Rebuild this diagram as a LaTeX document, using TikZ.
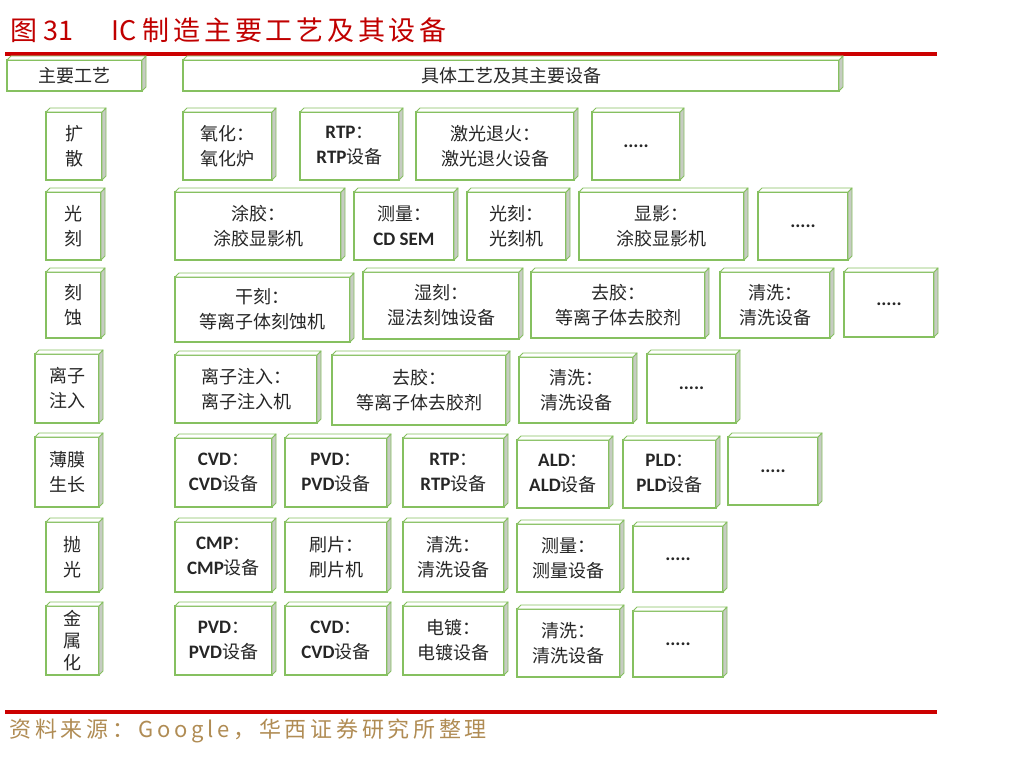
\documentclass[tikz,border=0pt]{standalone}
\usepackage{fontspec}
\setmainfont{Noto Sans CJK SC}
\newfontfamily\enfont{Carlito}
\newfontfamily\titlefont{Noto Sans CJK SC}[LetterSpace=14]
\newfontfamily\srcfont{Noto Sans CJK SC}[LetterSpace=17]
\usepackage{tikz}

\definecolor{boxgreen}{RGB}{134,192,96}
\definecolor{sidegray}{RGB}{198,204,194}
\definecolor{titlered}{RGB}{192,0,0}
\definecolor{rulered}{RGB}{204,0,0}
\definecolor{srcbrown}{RGB}{176,140,84}
\definecolor{txtgray}{RGB}{38,38,38}

\tikzset{
  cubefront/.style={draw=boxgreen, line width=1.3pt, fill=white, inner sep=0pt,
    outer sep=0pt, align=center, text=txtgray, font=\fontsize{18}{25}\selectfont},
  cubeside/.style={draw=boxgreen, line width=0.9pt, fill=sidegray, line join=round},
  cubetop/.style={draw=boxgreen, line width=0.9pt, fill=white, line join=round},
}

\newcommand{\en}[1]{{\enfont\bfseries\fontsize{19}{25}\selectfont #1}}
% front face corners (x1,y1) (x2,y2), the depth sticks out to the upper right
\newcommand{\gcube}[7][]{%
  \node[cubefront, minimum width={(#5-#3)*1pt}, minimum height={(#6-#4)*1pt}, #1]
    (#2) at ({(#3+#5)/2},{(#4+#6)/2}) {#7};
  \filldraw[cubeside] (#2.north east) -- ++(4,-4) -- ([shift={(4,-4)}]#2.south east)
    -- (#2.south east) -- cycle;
  \filldraw[cubetop] (#2.north west) -- ++(4,-4) -- ([shift={(4,-4)}]#2.north east)
    -- (#2.north east) -- cycle;
}

\begin{document}
\begin{tikzpicture}[x=1pt, y=-1pt]
    \useasboundingbox (0,0) rectangle (1018,757);

    \node[anchor=west, text=titlered, font=\fontsize{27}{27}\selectfont]
        (title) at (7,30) {图 31\hspace{38pt}IC\hspace{6pt}{\titlefont 制造主要工艺及其设备}};
    \draw[rulered, line width=4pt] (5,54) -- (937,54);

    \gcube{hdrmain}{7}{60}{142}{91}{主要工艺}
    \gcube{hdrequip}{183}{60}{839}{91}{具体工艺及其主要设备}

    \gcube{kuosan}{46}{112}{102}{180}{扩\\散}
    \gcube{guangke}{46}{192}{101}{260}{光\\刻}
    \gcube{keshi}{46}{272}{101}{338}{刻\\蚀}
    \gcube{zhuru}{35}{354}{99}{423}{离子\\注入}
    \gcube{bomo}{35}{437}{99}{507}{薄膜\\生长}
    \gcube{paoguang}{46}{522}{99}{592}{抛\\光}
    \gcube[font=\fontsize{18}{22}\selectfont]{jinshu}{46}{606}{99}{675}{金\\属\\化}

    \gcube{yanghua}{183}{112}{272}{180}{氧化：\\氧化炉}
    \gcube{rtpa}{300}{112}{399}{180}{\en{RTP}：\\\en{RTP}设备}
    \gcube{jiguang}{416}{112}{574}{180}{激光退火：\\激光退火设备}
    \gcube{dotsa}{592}{112}{680}{180}{\en{.....}}

    \gcube{tujiao}{175}{192}{341}{260}{涂胶：\\涂胶显影机}
    \gcube{celianga}{354}{192}{454}{260}{测量：\\\en{CD SEM}}
    \gcube{guangkeji}{467}{192}{566}{260}{光刻：\\光刻机}
    \gcube{xianying}{579}{192}{744}{260}{显影：\\涂胶显影机}
    \gcube{dotsb}{758}{192}{848}{260}{\en{.....}}

    \gcube{ganke}{175}{277}{350}{342}{干刻：\\等离子体刻蚀机}
    \gcube{shike}{363}{272}{519}{339}{湿刻：\\湿法刻蚀设备}
    \gcube{qujiaoa}{531}{272}{705}{338}{去胶：\\等离子体去胶剂}
    \gcube{qingxia}{720}{272}{830}{338}{清洗：\\清洗设备}
    \gcube{dotsc}{844}{272}{934}{337}{\en{.....}}

    \gcube{zhuruji}{175}{355}{317}{423}{离子注入：\\离子注入机}
    \gcube{qujiaob}{332}{355}{506}{425}{去胶：\\等离子体去胶剂}
    \gcube{qingxib}{519}{357}{633}{423}{清洗：\\清洗设备}
    \gcube{dotsd}{647}{354}{736}{423}{\en{.....}}

    \gcube{cvda}{175}{438}{272}{507}{\en{CVD}：\\\en{CVD}设备}
    \gcube{pvda}{285}{438}{387}{507}{\en{PVD}：\\\en{PVD}设备}
    \gcube{rtpb}{403}{438}{504}{507}{\en{RTP}：\\\en{RTP}设备}
    \gcube{ald}{517}{440}{609}{508}{\en{ALD}：\\\en{ALD}设备}
    \gcube{pld}{623}{440}{716}{508}{\en{PLD}：\\\en{PLD}设备}
    \gcube{dotse}{728}{437}{818}{505}{\en{.....}}

    \gcube{cmp}{175}{522}{272}{592}{\en{CMP}：\\\en{CMP}设备}
    \gcube{shuapian}{285}{522}{387}{592}{刷片：\\刷片机}
    \gcube{qingxic}{403}{522}{504}{592}{清洗：\\清洗设备}
    \gcube{celiangb}{517}{524}{620}{592}{测量：\\测量设备}
    \gcube{dotsf}{633}{526}{723}{592}{\en{.....}}

    \gcube{pvdb}{175}{606}{272}{675}{\en{PVD}：\\\en{PVD}设备}
    \gcube{cvdb}{285}{606}{387}{675}{\en{CVD}：\\\en{CVD}设备}
    \gcube{dianbu}{403}{606}{504}{675}{电镀：\\电镀设备}
    \gcube{qingxid}{517}{609}{620}{677}{清洗：\\清洗设备}
    \gcube{dotsg}{633}{611}{723}{677}{\en{.....}}

    \draw[rulered, line width=3.5pt] (5,712) -- (937,712);
    \node[anchor=west, text=srcbrown, font=\srcfont\fontsize{22}{22}\selectfont]
        (source) at (6,731) {资料来源：Google，华西证券研究所整理};
\end{tikzpicture}
\end{document}
